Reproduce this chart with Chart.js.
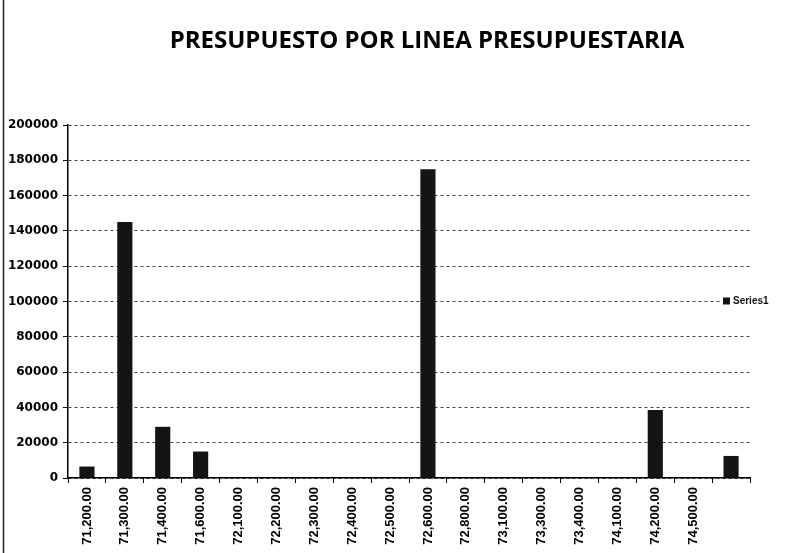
<!DOCTYPE html>
<html>
<head>
<meta charset="utf-8">
<script src="https://cdn.jsdelivr.net/npm/chart.js@4"></script>
<style>
  html, body { margin: 0; padding: 0; background: #fff; }
  #wrap { width: 795px; height: 553px; position: relative; }
</style>
</head>
<body>
<div id="wrap"><canvas id="budgetChart" width="795" height="553"></canvas></div>
<script>
// Lineas presupuestarias (la ultima barra no tiene etiqueta)
const categories = ['71,200.00', '71,300.00', '71,400.00', '71,600.00', '72,100.00', '72,200.00',
    '72,300.00', '72,400.00', '72,500.00', '72,600.00', '72,800.00', '73,100.00',
    '73,300.00', '73,400.00', '74,100.00', '74,200.00', '74,500.00', ''];
// Series1 - montos
const series1 = [6500, 145000, 29000, 15000, 0, 0, 0, 0, 0, 175000, 0, 0, 0, 0, 0, 38500, 0, 12500];
const yTicks = [0, 20000, 40000, 60000, 80000, 100000, 120000, 140000, 160000, 180000, 200000];

const chartTitle = 'PRESUPUESTO POR LINEA PRESUPUESTARIA';
const seriesName = 'Series1';

// Titulo, leyenda y marco izquierdo dibujados a mano
const decorPlugin = {
    id: 'decor',
    afterDraw(chart) {
        const ctx = chart.ctx;
        const y = chart.scales.y;
        ctx.save();
        // marco izquierdo
        ctx.strokeStyle = '#222';
        ctx.lineWidth = 1.5;
        ctx.beginPath();
        ctx.moveTo(3.5, 0);
        ctx.lineTo(3.5, chart.height);
        ctx.stroke();
        // titulo
        ctx.fillStyle = '#000';
        ctx.font = 'bold 24px "Open Sans", sans-serif';
        ctx.textAlign = 'center';
        ctx.textBaseline = 'middle';
        ctx.fillText(chartTitle, 427, 41);
        // leyenda
        const ly = y.getPixelForValue(100000);
        ctx.fillStyle = '#fff';
        ctx.fillRect(721, ly - 7, 60, 14);
        ctx.fillStyle = '#111';
        ctx.fillRect(723, ly - 4, 7, 7);
        ctx.font = 'bold 10px "Liberation Sans", sans-serif';
        ctx.textAlign = 'left';
        ctx.fillText(seriesName, 733, ly);
        ctx.restore();
    }
};

const ctx = document.getElementById('budgetChart').getContext('2d');
new Chart(ctx, {
    type: 'bar',
    data: {
        labels: categories,
        datasets: [{
            label: seriesName,
            data: series1,
            backgroundColor: '#141414',
            borderWidth: 0,
            barPercentage: 0.4,
            categoryPercentage: 1
        }]
    },
    options: {
        responsive: false,
        animation: false,
        layout: { padding: { top: 125, right: 45, left: 0, bottom: 0 } },
        plugins: {
            legend: { display: false },
            title: { display: false },
            tooltip: { enabled: false }
        },
        scales: {
            x: {
                afterFit: s => { s.height = 75; },
                grid: { drawOnChartArea: false, offset: true, tickLength: 5, tickColor: '#000' },
                border: { color: '#000', width: 1.5 },
                ticks: {
                    color: '#000',
                    minRotation: 90,
                    maxRotation: 90,
                    autoSkip: false,
                    padding: 4,
                    font: { family: '"Liberation Sans", sans-serif', size: 13, weight: 'bold' }
                }
            },
            y: {
                min: 0,
                max: 200000,
                afterFit: s => { s.width = 68; },
                afterBuildTicks: s => { s.ticks = yTicks.map(v => ({ value: v })); },
                grid: { color: '#444', lineWidth: 1, tickLength: 5, tickColor: '#000', tickBorderDash: [] },
                border: { color: '#000', width: 1.5, dash: [3, 3] },
                ticks: {
                    color: '#000',
                    padding: 5,
                    callback: v => String(v),
                    font: { family: '"DejaVu Sans", sans-serif', size: 12, weight: 'bold' }
                }
            }
        }
    },
    plugins: [decorPlugin]
});
</script>
</body>
</html>
